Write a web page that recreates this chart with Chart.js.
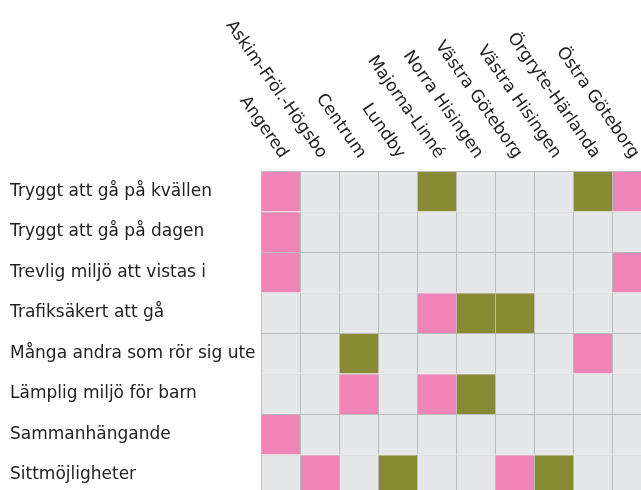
<!DOCTYPE html>
<html>
<head>
<meta charset="utf-8">
<script src="https://cdn.jsdelivr.net/npm/chart.js@4/dist/chart.umd.min.js"></script>
<style>
  html, body { margin: 0; padding: 0; overflow: hidden; background: #fff; }
  #wrap { position: absolute; left: 0; top: 0; width: 651px; height: 495px; }
</style>
</head>
<body>
<div id="wrap"><canvas id="chart"></canvas></div>
<script>
// rows (y axis)
const rowLabels = [
    'Tryggt att gå på kvällen',
    'Tryggt att gå på dagen',
    'Trevlig miljö att vistas i',
    'Trafiksäkert att gå',
    'Många andra som rör sig ute',
    'Lämplig miljö för barn',
    'Sammanhängande',
    'Sittmöjligheter'
];
// columns (districts)
const colLabels = [
    'Angered',
    'Askim-Fröl.-Högsbo',
    'Centrum',
    'Lundby',
    'Majorna-Linné',
    'Norra Hisingen',
    'Västra Göteborg',
    'Västra Hisingen',
    'Örgryte-Härlanda',
    'Östra Göteborg'
];
// -1 = lower (pink), 0 = neutral, 1 = higher (olive)
const cells = [
    [-1, 0, 0, 0, 1, 0, 0, 0, 1, -1],
    [-1, 0, 0, 0, 0, 0, 0, 0, 0, 0],
    [-1, 0, 0, 0, 0, 0, 0, 0, 0, -1],
    [0, 0, 0, 0, -1, 1, 1, 0, 0, 0],
    [0, 0, 1, 0, 0, 0, 0, 0, -1, 0],
    [0, 0, -1, 0, -1, 1, 0, 0, 0, 0],
    [-1, 0, 0, 0, 0, 0, 0, 0, 0, 0],
    [0, -1, 0, 1, 0, 0, -1, 1, 0, 0]
];

const FONT = '"DejaVu Sans", sans-serif';
const FONT_SIZE = 17;

function cellColor(v) {
    if (v < 0) return '#ee85b6';
    if (v > 0) return '#898b34';
    return '#e6e7e9';
}

let datasets = [];
for (let c = 0; c < colLabels.length; c++) {
    datasets.push({
        label: colLabels[c],
        data: rowLabels.map(() => 1),
        backgroundColor: cells.map(r => cellColor(r[c])),
        borderColor: '#b9babc',
        borderWidth: {top: 1, left: 1, right: 0, bottom: 0},
        borderSkipped: false,
        inflateAmount: 0,
        barPercentage: 1,
        categoryPercentage: 1
    });
}

// column headers, rotated down to the right, ending over each column
const colHeaders = {
    id: 'colHeaders',
    afterDraw(chart) {
        const ctx = chart.ctx;
        const xs = chart.scales.x;
        const top = chart.chartArea.top;
        ctx.save();
        ctx.font = FONT_SIZE + 'px ' + FONT;
        ctx.fillStyle = '#222';
        ctx.textAlign = 'right';
        ctx.textBaseline = 'alphabetic';
        for (let c = 0; c < colLabels.length; c++) {
            ctx.save();
            ctx.translate(xs.getPixelForValue(c + 0.5), top - 12);
            ctx.rotate(55 * Math.PI / 180);
            ctx.fillText(colLabels[c], 0, 0);
            ctx.restore();
        }
        ctx.restore();
    }
};

new Chart(document.getElementById('chart'), {
    type: 'bar',
    data: { labels: rowLabels, datasets: datasets },
    options: {
        indexAxis: 'y',
        responsive: true,
        maintainAspectRatio: false,
        animation: false,
        layout: { padding: { top: 171, left: 10, right: 0, bottom: 0 } },
        plugins: { legend: { display: false }, tooltip: { enabled: false } },
        scales: {
            x: { stacked: true, min: 0, max: colLabels.length, display: false },
            y: {
                stacked: true,
                grid: { display: false },
                border: { display: false },
                ticks: {
                    crossAlign: 'far',
                    color: '#222',
                    font: { family: FONT, size: FONT_SIZE }
                },
                afterFit(scale) {
                    scale.width = 251;
                    scale.paddingTop = 0;
                    scale.paddingBottom = 0;
                }
            }
        }
    },
    plugins: [colHeaders]
});
</script>
</body>
</html>
